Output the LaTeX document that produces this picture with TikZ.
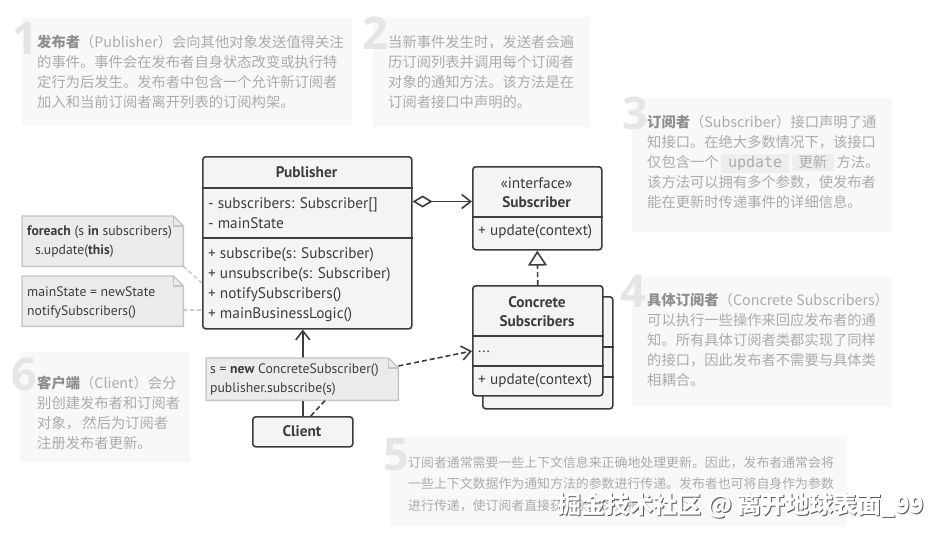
\documentclass[tikz,border=0pt]{standalone}
\usepackage{fontspec}
\setmainfont{PT Sans}
\newfontfamily\cjk{Noto Sans CJK SC}
\newfontfamily\numfont{Open Sans}
\newfontfamily\codefont{DejaVu Sans Mono}
\usetikzlibrary{arrows.meta}
\definecolor{ink}{HTML}{3D3D3D}
\definecolor{boxfill}{HTML}{F4F4F4}
\definecolor{notefill}{HTML}{EBEBEB}
\definecolor{noteedge}{HTML}{C4C4C4}
\definecolor{panelbg}{HTML}{F8F8F8}
\definecolor{numgray}{HTML}{E5E5E5}
\definecolor{txtgray}{HTML}{ABABAB}
\definecolor{boldgray}{HTML}{8E8E8E}
\definecolor{chipbg}{HTML}{EEEEEE}
\definecolor{leader}{HTML}{C8C8C8}
\newcommand\kw[1]{{\bfseries\color{boldgray}#1}}
\newcommand\chipbox[1]{{\setlength\fboxsep{2pt}\colorbox{chipbg}{\hspace{5pt}#1\hspace{5pt}}}}
\tikzset{
  umlbox/.style={draw=ink, fill=boxfill, line width=1.6pt, rounded corners=3pt, inner sep=0, anchor=north west},
  divider/.style={draw=ink, line width=1.6pt},
  umltitle/.style={font=\bfseries\fontsize{15.3}{19}\selectfont, text=ink, inner sep=0, align=center},
  member/.style={font=\fontsize{15.3}{20}\selectfont, text=ink, inner sep=0, anchor=north west, align=left},
  member1/.style={font=\fontsize{15.3}{20}\selectfont, text=ink, inner sep=0, anchor=west},
  conn/.style={draw=ink, line width=1.6pt},
  dashconn/.style={draw=ink, line width=1.6pt, dash pattern=on 5pt off 3pt},
  leaderline/.style={draw=leader, line width=1.4pt, dash pattern=on 4pt off 3pt},
  notearea/.style={inner sep=0, anchor=north west},
  notepaper/.style={draw=noteedge, fill=notefill, line width=1.4pt},
  notetext/.style={font=\fontsize{13.7}{19}\selectfont, text=ink, inner sep=0, anchor=north west, align=left},
  explain/.style={font=\cjk\fontsize{14.3}{20}\selectfont, text=txtgray, inner sep=0, anchor=north west, align=left},
  bignum/.style={font=\numfont\bfseries\fontsize{45}{45}\selectfont, text=numgray, inner sep=0, anchor=base west},
}
\begin{document}
\begin{tikzpicture}[x=1pt,y=-1pt]
\useasboundingbox (0,0) rectangle (940,535);
\fill[white] (0,0) rectangle (940,535);

% explanation panels
\fill[panelbg] (22,17) rectangle (352,125);
\fill[panelbg] (373,17) rectangle (590,127);
\fill[panelbg] (632,98) rectangle (892,232);
\fill[panelbg] (632,277) rectangle (892,407);
\fill[panelbg] (390,437) rectangle (847,527);
\fill[panelbg] (20,352) rectangle (190,462);

\node[bignum] (n1) at (12,55) {1};
\node[bignum] (n2) at (362,50) {2};
\node[bignum] (n3) at (622,129) {3};
\node[bignum] (n4) at (620,307) {4};
\node[bignum] (n5) at (383,470) {5};
\node[bignum] (n6) at (11,390) {6};

\node[explain] (e1) at (37,35.4) {\kw{发布者}（Publisher）会向其他对象发送值得关注\\的事件。事件会在发布者自身状态改变或执行特\\定行为后发生。发布者中包含一个允许新订阅者\\加入和当前订阅者离开列表的订阅构架。};
\node[explain] (e2) at (388,35.4) {当新事件发生时，发送者会遍\\历订阅列表并调用每个订阅者\\对象的通知方法。该方法是在\\订阅者接口中声明的。};
\node[explain] (e3) at (647,115.4) {\kw{订阅者}（Subscriber）接口声明了通\\知接口。在绝大多数情况下，该接口\\仅包含一个\,\chipbox{{\codefont\fontsize{15}{20}\selectfont update}}\,\chipbox{更新}\,方法。\\该方法可以拥有多个参数，使发布者\\能在更新时传递事件的详细信息。};
\node[explain] (e4) at (647,293.4) {\kw{具体订阅者}（Concrete Subscribers）\\可以执行一些操作来回应发布者的通\\知。所有具体订阅者类都实现了同样\\的接口，因此发布者不需要与具体类\\相耦合。};
\node[explain, font=\cjk\fontsize{12.9}{21.5}\selectfont] (e5) at (408,456) {订阅者通常需要一些上下文信息来正确地处理更新。因此，发布者通常会将\\一些上下文数据作为通知方法的参数进行传递。发布者也可将自身作为参数\\进行传递，使订阅者直接获取所需的数据。};
\node[explain] (e6) at (37,375.4) {\kw{客户端}（Client）会分\\别创建发布者和订阅者\\对象，\,然后为订阅者\\注册发布者更新。};

% Publisher
\node[umlbox, minimum width=209, minimum height=172] (pub) at (202,156) {};
\coordinate (pubd1) at (0,188);
\coordinate (pubd2) at (0,238);
\draw[divider] (pub.west |- pubd1) -- (pub.east |- pubd1);
\draw[divider] (pub.west |- pubd2) -- (pub.east |- pubd2);
\node[umltitle] (pubT) at (306.5,172) {Publisher};
\node[member] (pubF) at (208,197.5) {- subscribers: Subscriber[]\\- mainState};
\node[member] (pubM) at (208,247) {+ subscribe(s: Subscriber)\\+ unsubscribe(s: Subscriber)\\+ notifySubscribers()\\+ mainBusinessLogic()};

% Subscriber interface
\node[umlbox, minimum width=129, minimum height=83] (sub) at (472,166) {};
\coordinate (subd1) at (0,217);
\draw[divider] (sub.west |- subd1) -- (sub.east |- subd1);
\node[inner sep=0, font=\fontsize{15.3}{19}\selectfont, text=ink] (subI) at (536.5,183) {«interface»};
\node[umltitle] (subT) at (536.5,202) {Subscriber};
\node[member1] (subM) at (478,232) {+ update(context)};

% Concrete subscribers (stacked)
\node[umlbox, minimum width=130, minimum height=112] (csb) at (482,296) {};
\coordinate (csbd1) at (0,347);
\coordinate (csbd2) at (0,377);
\draw[divider] (csb.west |- csbd1) -- (csb.east |- csbd1);
\draw[divider] (csb.west |- csbd2) -- (csb.east |- csbd2);
\node[umlbox, minimum width=130, minimum height=110] (cs) at (472,285) {};
\coordinate (csd1) at (0,336);
\coordinate (csd2) at (0,366);
\draw[divider] (cs.west |- csd1) -- (cs.east |- csd1);
\draw[divider] (cs.west |- csd2) -- (cs.east |- csd2);
\node[umltitle] (csT) at (537,311.5) {Concrete\\Subscribers};
\node[member1] (csF) at (478,352) {...};
\node[member1] (csM) at (478,381) {+ update(context)};

% Client
\node[umlbox, minimum width=100, minimum height=30] (client) at (252,416) {};
\node[umltitle] (clientT) at (302,431) {Client};

% connectors
\coordinate (aggy) at (0,201.5);
\draw[conn, {Diamond[fill=white,length=20pt,width=12pt]}-{Straight Barb[length=9pt,width=14pt]}] (pub.east |- aggy) -- (sub.west |- aggy);
\draw[dashconn, -{Triangle[fill=white,length=15pt,width=19pt]}] (cs.north) -- (sub.south);
\draw[conn, -{Straight Barb[length=9pt,width=14pt]}] (client.north) -- (client.north |- pub.south);

% comment notes
\node[notearea, minimum width=161, minimum height=50] (c1) at (22,216) {};
\node[notearea, minimum width=161, minimum height=50] (c2) at (22,276) {};
\node[notearea, minimum width=192, minimum height=42] (c3) at (206,358) {};
\foreach \c in {c1,c2,c3}{
  \draw[notepaper] (\c.north west) -- ([xshift=-10pt]\c.north east) -- ([yshift=-10pt]\c.north east) -- (\c.south east) -- (\c.south west) -- cycle;
  \draw[draw=noteedge, line width=1.2pt] ([xshift=-10pt]\c.north east) -- ([xshift=-10pt,yshift=-10pt]\c.north east) -- ([yshift=-10pt]\c.north east);
}
\node[notetext] (c1t) at (27,226) {\textbf{foreach} (s \textbf{in} subscribers)\\\hspace*{8pt}s.update(\textbf{this})};
\node[notetext] (c2t) at (27,286.5) {mainState = newState\\notifySubscribers()};
\node[notetext] (c3t) at (210,364) {s = \textbf{new} ConcreteSubscriber()\\publisher.subscribe(s)};

\coordinate (l1) at (0,283);
\coordinate (l2) at (0,310);
\draw[leaderline] (c1.south east) -- (pub.west |- l1);
\draw[leaderline] (c2.east |- l2) -- (pub.west |- l2);
\coordinate (csin) at (0,351);
\draw[dashconn, -{Straight Barb[length=9pt,width=14pt]}] ([yshift=-8pt]c3.north east) -- (cs.west |- csin);
\draw[dashconn] ([xshift=8pt]client.north) -- ([xshift=23pt]c3.south);

% watermark
\node[font=\cjk\bfseries\fontsize{24}{24}\selectfont, text=black!65, inner sep=0] (wmshadow) at (742,506) {掘金技术社区 @ 离开地球表面\_99};
\node[font=\cjk\bfseries\fontsize{24}{24}\selectfont, text=white, inner sep=0] (wm) at (741,505) {掘金技术社区 @ 离开地球表面\_99};
\end{tikzpicture}
\end{document}
